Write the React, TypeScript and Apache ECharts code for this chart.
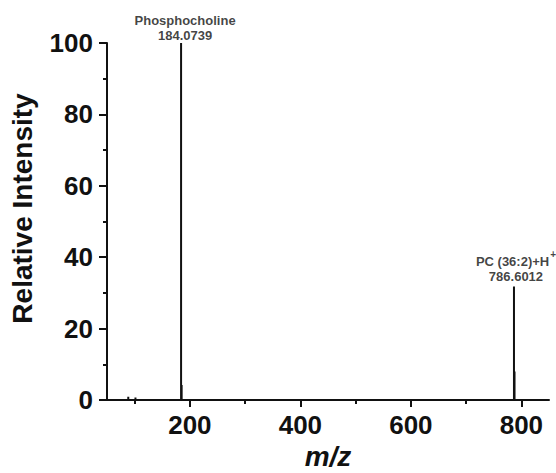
import React, { useEffect, useRef } from "react";
import * as echarts from "echarts";

// Spectrum peaks (m/z, relative intensity)
const peakMz = [88.5, 101.5, 184.0739, 185.1, 786.6012, 787.6];
const peakIntensity = [0.9, 0.7, 100, 4.2, 31.8, 8.0];

// Annotated peaks
const annotatedMz = [184.0739, 786.6012];
const annotatedIntensity = [100, 31.8];
const annotatedName = ["Phosphocholine", "PC (36:2)+H"];
const annotatedSup = ["", "+"];
const annotatedMzText = ["184.0739", "786.6012"];

// Axis ticks
const xMajorTicks = [200, 400, 600, 800];
const xMinorTicks = [100, 300, 500, 700];
const xMin = 50;
const xMax = 850;
const yMin = 0;
const yMax = 100;
const yInterval = 20;

const FONT = "'Liberation Sans', Arial, sans-serif";
const INK = "#111111";

export default function App() {
  const ref = useRef<HTMLDivElement>(null);

  useEffect(() => {
    if (!ref.current) return;
    const chart = echarts.init(ref.current, null, { renderer: "svg" });

    const stick: number[][] = [[xMin, 0]];
    peakMz.forEach((mz, i) => {
      stick.push([mz, 0], [mz, peakIntensity[i]], [mz, 0]);
    });
    stick.push([xMax, 0]);

    const labelData = annotatedMz.map((mz, i) => ({
      value: [mz, annotatedIntensity[i]],
      label: {
        formatter: annotatedSup[i]
          ? `{t|${annotatedName[i]}}{sup|${annotatedSup[i]}}\n{n|${annotatedMzText[i]}}`
          : `{t|${annotatedName[i]}}\n{n|${annotatedMzText[i]}}`,
        distance: annotatedSup[i] ? 2 : 0,
        offset: [annotatedSup[i] ? 2 : 4, 0],
      },
    }));

    chart.setOption({
      animation: false,
      backgroundColor: "#ffffff",
      grid: { left: 107, right: 7, top: 43, bottom: 73, containLabel: false, outerBoundsMode: "none" },
      xAxis: [
        {
          type: "value",
          min: xMin,
          max: xMax,
          position: "bottom",
          name: "m/z",
          nameLocation: "middle",
          nameGap: 42,
          nameTextStyle: {
            fontFamily: FONT,
            fontWeight: "bold",
            fontStyle: "italic",
            fontSize: 28,
            lineHeight: 26,
            color: INK,
          },
          axisLine: { show: true, onZero: false, lineStyle: { color: INK, width: 2 } },
          axisTick: { show: true, customValues: xMajorTicks, length: 7, lineStyle: { color: INK, width: 2 } },
          axisLabel: {
            customValues: xMajorTicks,
            fontFamily: FONT,
            fontWeight: "bold",
            fontSize: 26,
            color: INK,
            margin: 12,
          },
          splitLine: { show: false },
        },
        {
          type: "value",
          min: xMin,
          max: xMax,
          position: "bottom",
          offset: 0,
          axisLine: { show: false },
          axisTick: { show: true, customValues: xMinorTicks, length: 4, lineStyle: { color: INK, width: 2 } },
          axisLabel: { show: false },
          splitLine: { show: false },
        },
      ],
      yAxis: {
        type: "value",
        min: yMin,
        max: yMax,
        interval: yInterval,
        name: "Relative Intensity",
        nameLocation: "middle",
        nameGap: 71,
        nameTextStyle: {
          fontFamily: FONT,
          fontWeight: "bold",
          fontSize: 28,
          lineHeight: 28,
          color: INK,
          padding: [0, 0, 0, 26],
        },
        axisLine: { show: true, lineStyle: { color: INK, width: 2 } },
        axisTick: { show: true, length: 8, lineStyle: { color: INK, width: 2 } },
        minorTick: { show: true, splitNumber: 2, length: 4, lineStyle: { color: INK, width: 2 } },
        axisLabel: {
          fontFamily: FONT,
          fontWeight: "bold",
          fontSize: 26,
          color: INK,
          margin: 14,
        },
        splitLine: { show: false },
      },
      series: [
        {
          type: "line",
          xAxisIndex: 0,
          data: stick,
          showSymbol: false,
          symbol: "none",
          lineStyle: { color: INK, width: 2 },
          silent: true,
        },
        {
          type: "scatter",
          xAxisIndex: 0,
          data: labelData,
          symbolSize: 0,
          label: {
            show: true,
            position: "top",
            align: "center",
            lineHeight: 15,
            rich: {
              t: { fontFamily: FONT, fontWeight: "bold", fontSize: 13, lineHeight: 15, color: INK },
              n: { fontFamily: FONT, fontWeight: "bold", fontSize: 13, lineHeight: 15, color: INK },
              sup: {
                fontFamily: FONT,
                fontWeight: "bold",
                fontSize: 10,
                color: INK,
                verticalAlign: "bottom",
                lineHeight: 2,
                padding: [0, 0, 10, 1],
              },
            },
          },
        },
      ],
    });

    return () => chart.dispose();
  }, []);

  return (
    <div
      ref={ref}
      style={{ position: "fixed", left: 0, top: 0, width: 556, height: 473, background: "#fff" }}
    />
  );
}
